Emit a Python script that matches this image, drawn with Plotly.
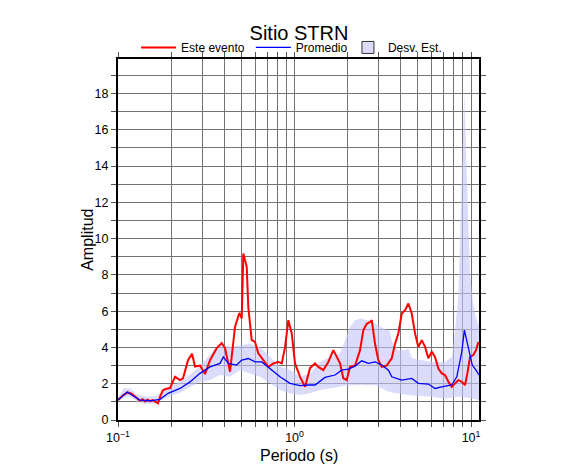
import plotly.graph_objects as go

# --- Este evento (red) ---
red_T = [0.100, 0.1065, 0.1135, 0.1190, 0.1248, 0.1332, 0.1380, 0.1422, 0.1470, 0.1518, 0.1570,
         0.1621, 0.1685, 0.1740, 0.1799, 0.1880, 0.1971, 0.2104, 0.2245, 0.2335, 0.2493,
         0.2626, 0.2731, 0.2914, 0.3111, 0.3321, 0.3624, 0.3869, 0.4039, 0.4311, 0.4602,
         0.4868, 0.5022, 0.5129, 0.5361, 0.5474, 0.5721, 0.5974, 0.6236, 0.6655, 0.7106,
         0.7584, 0.8095, 0.8461, 0.8835, 0.9224, 0.9641, 1.0065, 1.0744, 1.147, 1.224,
         1.306, 1.364, 1.456, 1.554, 1.659, 1.734, 1.810, 1.890, 1.976, 2.063, 2.202,
         2.350, 2.454, 2.565, 2.678, 2.738, 2.858, 2.984, 3.120, 3.330, 3.554, 3.711,
         3.874, 4.050, 4.228, 4.414, 4.614, 4.817, 5.029, 5.257, 5.488, 5.730, 5.989,
         6.252, 6.528, 6.823, 7.123, 7.436, 7.773, 8.117, 8.472, 8.859, 9.248, 9.528,
         9.869, 10.30, 10.67, 11.0]
red_A = [1.10, 1.35, 1.52, 1.45, 1.30, 1.06, 1.14, 1.02, 1.12, 1.04, 1.10,
         1.02, 0.92, 1.35, 1.65, 1.72, 1.76, 2.38, 2.20, 2.30, 3.30,
         3.65, 2.95, 3.00, 2.53, 3.30, 3.96, 4.24, 3.96, 2.66, 5.14,
         5.90, 5.60, 9.18, 8.44, 6.20, 4.40, 4.30, 3.67, 3.30, 2.93,
         3.12, 3.20, 3.12, 4.00, 5.50, 4.77, 3.12, 2.38, 1.83, 2.86,
         3.12, 2.93, 2.75, 3.20, 3.85, 3.48, 3.12, 2.30, 2.20, 2.93, 3.00,
         3.85, 4.95, 5.30, 5.40, 5.50, 4.20, 3.30, 2.93, 3.00, 3.40, 4.20,
         4.77, 5.87, 6.05, 6.42, 5.87, 4.77, 4.03, 4.40, 4.03, 3.40, 3.76,
         3.48, 2.84, 2.57, 2.48, 2.11, 1.83, 2.02, 2.20, 2.11, 1.93, 2.57,
         3.48, 3.58, 3.85, 4.30]

# --- Promedio (blue) ---
blue_T = [0.100, 0.1125, 0.1248, 0.1332, 0.1518, 0.1729, 0.1921, 0.2245, 0.2558, 0.2914,
          0.3321, 0.3784, 0.3952, 0.4221, 0.4697, 0.5022, 0.5474, 0.5974, 0.6522, 0.7264,
          0.8275, 0.9428, 1.0744, 1.198, 1.306, 1.488, 1.696, 1.849, 2.019, 2.202,
          2.403, 2.620, 2.858, 3.120, 3.404, 3.554, 4.050, 4.614, 5.029, 5.730,
          6.252, 6.823, 7.773, 8.302, 8.859, 9.165, 9.634, 10.16, 10.67, 11.1]
blue_A = [1.10, 1.54, 1.27, 1.10, 1.06, 1.14, 1.47, 1.74, 2.10, 2.57,
          2.93, 3.12, 3.48, 3.12, 3.03, 3.30, 3.39, 3.20, 3.20, 2.84,
          2.38, 2.02, 1.89, 1.93, 1.93, 2.35, 2.48, 2.75, 2.80, 2.97,
          3.26, 3.12, 3.20, 3.03, 2.75, 2.38, 2.20, 2.29, 2.02, 1.98,
          1.74, 1.83, 1.93, 2.38, 3.76, 4.95, 3.94, 3.03, 2.75, 2.48]

# --- Desv. Est. band ---
band_T = [0.100, 0.108, 0.117, 0.128, 0.142, 0.162, 0.180, 0.202, 0.2245, 0.2558,
          0.2914, 0.3321, 0.3784, 0.4311, 0.4913, 0.5596, 0.6377, 0.7264, 0.8275, 0.9428,
          1.0744, 1.224, 1.394, 1.589, 1.810, 1.933, 2.063, 2.202, 2.375, 2.580,
          2.858, 3.256, 3.45, 3.62, 3.86, 4.228, 4.40, 4.64, 5.28, 6.01,
          7.12, 7.80, 8.117, 8.47, 9.15, 9.87, 10.25, 10.67, 11.1]
band_hi = [1.25, 1.75, 1.75, 1.40, 1.30, 1.30, 1.60, 1.90, 2.10, 2.50,
           3.00, 3.58, 4.20, 4.03, 4.13, 4.20, 4.03, 3.48, 2.93, 2.75,
           2.38, 2.57, 3.20, 3.48, 3.67, 4.40, 5.14, 5.50, 5.60, 5.50,
           5.30, 5.00, 4.90, 4.10, 3.85, 3.85, 3.94, 3.40, 3.30, 3.20,
           3.20, 3.48, 4.95, 6.80, 18.0, 8.00, 6.50, 5.60, 5.20]
band_lo = [1.00, 1.25, 1.30, 1.00, 0.90, 0.90, 1.15, 1.35, 1.50, 1.80,
           2.10, 2.20, 2.48, 2.38, 2.75, 2.57, 2.38, 2.02, 1.65, 1.47,
           1.38, 1.47, 1.65, 1.74, 1.83, 1.90, 1.93, 1.93, 1.93, 1.90,
           1.93, 1.65, 1.55, 1.50, 1.45, 1.40, 1.38, 1.35, 1.30, 1.28,
           1.19, 1.22, 1.25, 1.28, 1.25, 1.20, 1.19, 1.15, 1.10]

title_text = "Sitio STRN"
x_label = "Periodo (s)"
y_label = "Amplitud"
x_tickvals = [0.1, 1, 10]
x_ticktext = ["10<sup>−1</sup>", "10<sup>0</sup>", "10<sup>1</sup>"]

FONT = "Liberation Sans, Arial, Helvetica, sans-serif"
BAND_FILL = "rgba(195,195,250,0.6)"
GRID = "#737373"

fig = go.Figure()

fig.add_trace(go.Scatter(
    x=band_T + band_T[::-1], y=band_hi + band_lo[::-1],
    fill="toself", fillcolor=BAND_FILL, line=dict(width=0),
    mode="lines", showlegend=False, hoverinfo="skip"))

fig.add_trace(go.Scatter(x=red_T, y=red_A, mode="lines", name="Este evento",
                         line=dict(color="#ff0000", width=2), legend="legend"))
fig.add_trace(go.Scatter(x=blue_T, y=blue_A, mode="lines", name="Promedio",
                         line=dict(color="#0000ff", width=1.3), legend="legend2"))
fig.add_trace(go.Scatter(x=[None], y=[None], mode="markers", name="Desv. Est.",
                         marker=dict(symbol="square", size=12, color="#dcdcfa",
                                     line=dict(color="#333333", width=1)),
                         legend="legend3"))

axis_common = dict(
    showline=True, linecolor="black", linewidth=2, mirror="allticks",
    ticks="outside", ticklen=5, tickcolor="#555555", tickwidth=1,
    showgrid=True, gridcolor=GRID, gridwidth=1, zeroline=False,
    tickfont=dict(size=12.5, color="black", family=FONT),
)

fig.update_xaxes(
    type="log", range=[-1, 1.045],
    tickvals=x_tickvals, ticktext=x_ticktext,
    minor=dict(dtick="D1", showgrid=True, gridcolor=GRID, gridwidth=1,
               ticks="outside", ticklen=5, tickcolor="#555555"),
    **axis_common)

fig.update_yaxes(
    range=[0, 19.9], dtick=2, tick0=0,
    minor=dict(dtick=1, showgrid=True, gridcolor=GRID, gridwidth=1,
               ticks="outside", ticklen=5, tickcolor="#555555"),
    **axis_common)

leg_common = dict(orientation="h", yanchor="middle", y=1.032, xanchor="left",
                  font=dict(size=12, color="black", family=FONT),
                  bgcolor="rgba(0,0,0,0)", borderwidth=0)

fig.add_annotation(text=y_label, xref="paper", yref="paper", x=-0.085, y=0.5,
                   xanchor="center", yanchor="middle", textangle=-90, showarrow=False,
                   font=dict(size=16, color="black", family=FONT))
fig.add_annotation(text=x_label, xref="paper", yref="paper", x=0.5, y=-0.097,
                   xanchor="center", yanchor="middle", showarrow=False,
                   font=dict(size=16, color="black", family=FONT))

fig.update_layout(
    width=586, height=475,
    margin=dict(l=110, r=115, t=51, b=63, autoexpand=False),
    paper_bgcolor="white", plot_bgcolor="white",
    title=dict(text=title_text, x=0.4966, xanchor="center", y=0.947, yanchor="middle",
               font=dict(size=20, color="black", family=FONT)),
    legend=dict(x=0.050, itemwidth=35, **leg_common),
    legend2=dict(x=0.368, itemwidth=35, **leg_common),
    legend3=dict(x=0.637, itemwidth=30, **leg_common),
    showlegend=True,
)

fig.write_html("out.html")
